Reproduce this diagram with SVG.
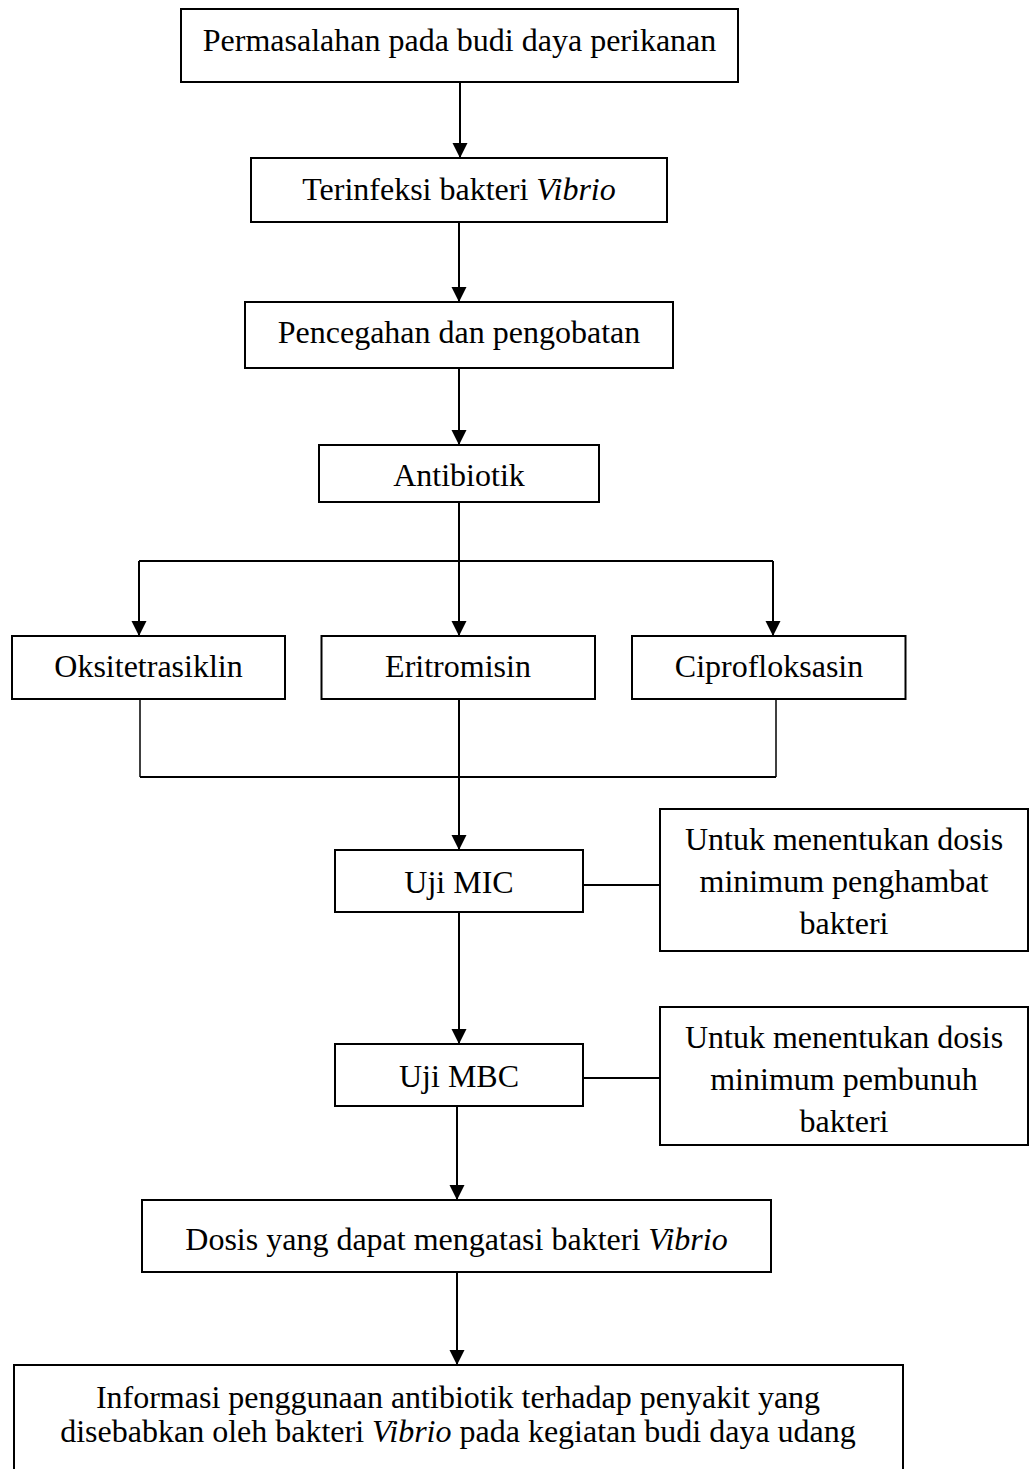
<svg xmlns="http://www.w3.org/2000/svg" width="1029" height="1469" viewBox="0 0 1029 1469">
<style>
.box{fill:#fff;stroke:#000;stroke-width:2}
.t{font-family:"Liberation Serif","Times New Roman",serif;font-size:32px;fill:#000;text-anchor:middle}
.c{fill:none;stroke:#000;stroke-width:2}
.thin{fill:none;stroke:#000;stroke-width:1.5}
</style>
<defs>
<marker id="ah" markerUnits="userSpaceOnUse" markerWidth="16" markerHeight="16" viewBox="0 0 16 16" refX="15" refY="8" orient="auto">
<path d="M0,0.5 L15,8 L0,15.5 Z" fill="#000"/>
</marker>
</defs>
<rect width="1029" height="1469" fill="#fff"/>
<g id="connectors">
<line class="c" x1="460" y1="82" x2="460" y2="158" marker-end="url(#ah)"/>
<line class="c" x1="459" y1="222" x2="459" y2="302" marker-end="url(#ah)"/>
<line class="c" x1="459" y1="368" x2="459" y2="445" marker-end="url(#ah)"/>
<line class="c" x1="459" y1="502" x2="459" y2="561"/>
<line class="c" x1="139" y1="561" x2="773" y2="561"/>
<line class="c" x1="139" y1="561" x2="139" y2="636" marker-end="url(#ah)"/>
<line class="c" x1="459" y1="561" x2="459" y2="636" marker-end="url(#ah)"/>
<line class="c" x1="773" y1="561" x2="773" y2="636" marker-end="url(#ah)"/>
<line class="thin" x1="140" y1="699" x2="140" y2="777"/>
<line class="thin" x1="776" y1="699" x2="776" y2="777"/>
<line class="c" x1="140" y1="777" x2="776" y2="777"/>
<line class="c" x1="459" y1="699" x2="459" y2="850" marker-end="url(#ah)"/>
<line class="c" x1="583" y1="885" x2="660" y2="885"/>
<line class="c" x1="459" y1="912" x2="459" y2="1044" marker-end="url(#ah)"/>
<line class="c" x1="583" y1="1078" x2="660" y2="1078"/>
<line class="c" x1="457" y1="1106" x2="457" y2="1200" marker-end="url(#ah)"/>
<line class="c" x1="457" y1="1272" x2="457" y2="1365" marker-end="url(#ah)"/>
</g>
<g id="n1"><rect class="box" x="181" y="9" width="557" height="73"/><text class="t" x="459.5" y="51">Permasalahan pada budi daya perikanan</text></g>
<g id="n2"><rect class="box" x="251" y="158" width="416" height="64"/><text class="t" x="459" y="200">Terinfeksi bakteri <tspan font-style="italic">Vibrio</tspan></text></g>
<g id="n3"><rect class="box" x="245" y="302" width="428" height="66"/><text class="t" x="459" y="343">Pencegahan dan pengobatan</text></g>
<g id="n4"><rect class="box" x="319" y="445" width="280" height="57"/><text class="t" x="459" y="486">Antibiotik</text></g>
<g id="n5"><rect class="box" x="12" y="636" width="273" height="63"/><text class="t" x="148.5" y="677">Oksitetrasiklin</text></g>
<g id="n6"><rect class="box" x="321.5" y="636" width="273.5" height="63"/><text class="t" x="458" y="677">Eritromisin</text></g>
<g id="n7"><rect class="box" x="632" y="636" width="273.5" height="63"/><text class="t" x="769" y="677">Ciprofloksasin</text></g>
<g id="n8"><rect class="box" x="335" y="850" width="248" height="62"/><text class="t" x="459" y="893">Uji MIC</text></g>
<g id="n9"><rect class="box" x="660" y="809" width="368" height="142"/><text class="t" x="844" y="850">Untuk menentukan dosis</text><text class="t" x="844" y="892">minimum penghambat</text><text class="t" x="844" y="934">bakteri</text></g>
<g id="n10"><rect class="box" x="335" y="1044" width="248" height="62"/><text class="t" x="459" y="1087">Uji MBC</text></g>
<g id="n11"><rect class="box" x="660" y="1007" width="368" height="138"/><text class="t" x="844" y="1048">Untuk menentukan dosis</text><text class="t" x="844" y="1090">minimum pembunuh</text><text class="t" x="844" y="1132">bakteri</text></g>
<g id="n12"><rect class="box" x="142" y="1200" width="629" height="72"/><text class="t" x="456.5" y="1250">Dosis yang dapat mengatasi bakteri <tspan font-style="italic">Vibrio</tspan></text></g>
<g id="n13"><rect class="box" x="14" y="1365" width="889" height="120"/><text class="t" x="458" y="1408">Informasi penggunaan antibiotik terhadap penyakit yang</text><text class="t" x="458" y="1442">disebabkan oleh bakteri <tspan font-style="italic">Vibrio</tspan> pada kegiatan budi daya udang</text></g>
</svg>
